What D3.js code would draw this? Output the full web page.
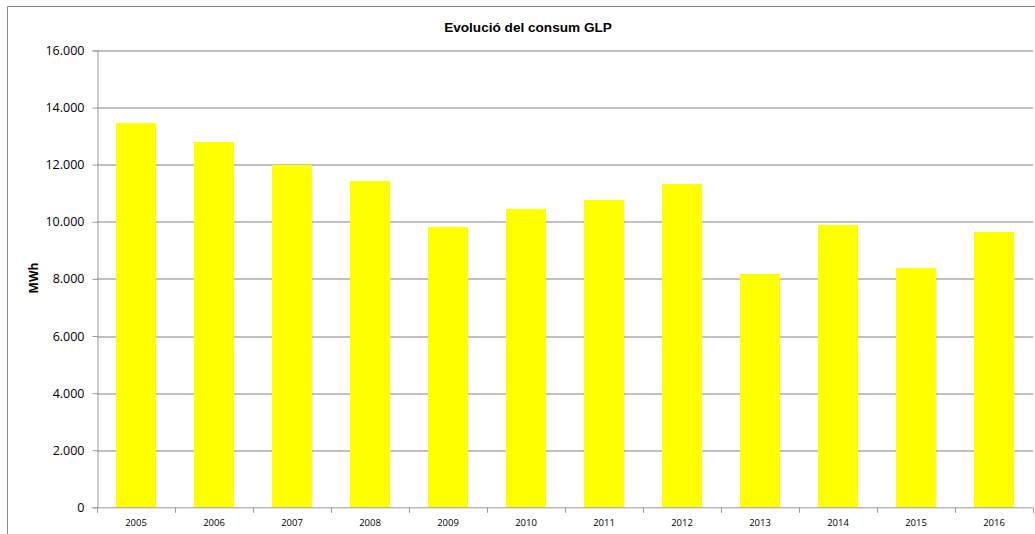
<!DOCTYPE html>
<html>
<head>
<meta charset="utf-8">
<script src="https://cdn.jsdelivr.net/npm/d3@7"></script>
<style>
  body { margin: 0; background: #fff; }
  svg text { font-family: "Open Sans", sans-serif; fill: #000; }
</style>
</head>
<body>
<div id="chart"></div>
<script>
// data
var years = ["2005", "2006", "2007", "2008", "2009", "2010", "2011", "2012", "2013", "2014", "2015", "2016"];
var consum = [13460, 12795, 11990, 11430, 9818, 10449, 10765, 11324, 8172, 9888, 8382, 9643];
var yTicks = [0, 2000, 4000, 6000, 8000, 10000, 12000, 14000, 16000];

var W = 1035, H = 534;
var margin = { top: 50.5, right: 2, bottom: 26.7, left: 97 },
    width = W - margin.left - margin.right,
    height = H - margin.top - margin.bottom;

var svg = d3.select("#chart")
    .append("svg")
    .attr("width", W)
    .attr("height", H);

// outer chart frame (only top and left visible)
svg.append("path")
    .attr("d", "M7.5," + H + "V6.5H" + W)
    .attr("fill", "none")
    .attr("stroke", "#8c8c8c")
    .attr("stroke-width", 1);

// title
svg.append("text")
    .attr("x", 528)
    .attr("y", 31.5)
    .attr("text-anchor", "middle")
    .style("font-family", "'Liberation Sans', Arial, sans-serif")
    .style("font-size", "13.6px")
    .style("font-weight", "bold")
    .text("Evolució del consum GLP");

// y label
svg.append("text")
    .attr("transform", "translate(37.5,278) rotate(-90)")
    .attr("text-anchor", "middle")
    .style("font-size", "12px")
    .style("font-weight", "bold")
    .text("MWh");

var g = svg.append("g")
    .attr("transform", "translate(" + margin.left + "," + margin.top + ")");

var x = d3.scaleBand()
    .domain(years)
    .range([0, width])
    .paddingInner(0.487)
    .paddingOuter(0.2435);

var y = d3.scaleLinear()
    .domain([0, 16000])
    .range([height, 0]);

var fmt = function (d) { return d3.format(",")(d).replace(/,/g, "."); };

// gridlines
g.append("g")
    .selectAll("line")
    .data(yTicks.filter(function (d) { return d > 0; }))
    .enter()
    .append("line")
    .attr("x1", 0)
    .attr("x2", width)
    .attr("y1", function (d) { return Math.round(y(d)) + 0.5; })
    .attr("y2", function (d) { return Math.round(y(d)) + 0.5; })
    .attr("stroke", "#ababab")
    .attr("stroke-width", 1.3);

// bars
g.selectAll(".bar")
    .data(consum)
    .enter()
    .append("rect")
    .attr("x", function (d, i) { return x(years[i]); })
    .attr("y", function (d) { return y(d); })
    .attr("width", x.bandwidth())
    .attr("height", function (d) { return height - y(d); })
    .attr("fill", "#ffff00");

// y axis
var yAxis = g.append("g")
    .attr("transform", "translate(0.5,0)")
    .call(d3.axisLeft(y).tickValues(yTicks).tickFormat(fmt).tickSize(5).tickPadding(8));
yAxis.selectAll("line, path").attr("stroke", "#9a9a9a");
yAxis.selectAll("text")
    .style("font-size", "12.5px")
    .style("font-family", "'Open Sans', sans-serif");

// x axis with ticks between categories
var xAxis = g.append("g")
    .attr("transform", "translate(0," + (height + 0.5) + ")");
xAxis.append("line")
    .attr("x1", 0).attr("x2", width)
    .attr("stroke", "#9a9a9a");
xAxis.selectAll(".sep")
    .data(d3.range(years.length + 1))
    .enter()
    .append("line")
    .attr("x1", function (i) { return Math.round(i * x.step()) + 0.5; })
    .attr("x2", function (i) { return Math.round(i * x.step()) + 0.5; })
    .attr("y1", 0)
    .attr("y2", 5)
    .attr("stroke", "#9a9a9a");
xAxis.selectAll(".lbl")
    .data(years)
    .enter()
    .append("text")
    .attr("x", function (d) { return x(d) + x.bandwidth() / 2; })
    .attr("y", 18.5)
    .attr("text-anchor", "middle")
    .style("font-size", "9.5px")
    .text(function (d) { return d; });
</script>
</body>
</html>
